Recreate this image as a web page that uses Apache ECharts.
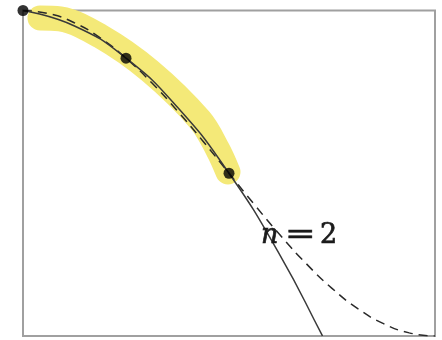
<!DOCTYPE html>
<html>
<head>
<meta charset="utf-8">
<script src="https://cdn.jsdelivr.net/npm/echarts@6/dist/echarts.min.js"></script>
<style>
  html, body { margin: 0; padding: 0; background: #fff; }
  #chart { width: 442px; height: 340px; }
</style>
</head>
<body>
<div id="chart"></div>
<script>
// x is measured in quarter-turns of pi/4, so the domain 0..4 covers 0..pi
const nodeX = [0, 1, 2];
const nodeY = [1, 0.7071, 0];

// target function, sampled along the full domain
const cosX = [0, 0.25, 0.5, 0.75, 1, 1.25, 1.5, 1.75, 2, 2.25, 2.5, 2.75, 3, 3.25, 3.5, 3.75, 4];
const cosY = [1, 0.9808, 0.9239, 0.8315, 0.7071, 0.5556, 0.3827, 0.1951, 0, -0.1951, -0.3827, -0.5556, -0.7071, -0.8315, -0.9239, -0.9808, -1];

// quadratic interpolant through the three nodes
const polyX = [0, 0.5, 1, 1.5, 2, 2.5, 2.9, 2.907];
const polyY = [1, 0.905, 0.707, 0.405, 0, -0.509, -0.990, -1.0];

// highlighter stroke over the interpolated interval
const markX = [0.165, 0.359, 0.748, 1.233, 1.718, 1.893, 1.99];
const markY = [0.954, 0.948, 0.843, 0.628, 0.327, 0.143, 0.008];

// annotation pieces: variable, relation, degree
const labelParts = ['n', '=', '2'];

const zip = (xs, ys) => xs.map((x, i) => [x, ys[i]]);

const chart = echarts.init(document.getElementById('chart'), null, { renderer: 'canvas' });

const textStyle = (text, italic) => ({
  text: text,
  fontFamily: 'DejaVu Serif',
  fontStyle: italic ? 'italic' : 'normal',
  fontSize: 27,
  fill: '#1a1a1a',
  stroke: '#1a1a1a',
  lineWidth: 0.7,
  verticalAlign: 'middle',
  align: 'left'
});

chart.setOption({
  animation: false,
  backgroundColor: '#fff',
  grid: {
    left: 23, top: 10.5, right: 7, bottom: 4,
    show: true, borderColor: '#a0a0a0', borderWidth: 2, backgroundColor: 'transparent'
  },
  xAxis: {
    type: 'value', min: 0, max: 4,
    axisLine: { show: false }, axisTick: { show: false },
    axisLabel: { show: false }, splitLine: { show: false }
  },
  yAxis: {
    type: 'value', min: -1, max: 1,
    axisLine: { show: false }, axisTick: { show: false },
    axisLabel: { show: false }, splitLine: { show: false }
  },
  series: [
    {
      type: 'line', data: zip(markX, markY), smooth: 0.35, symbol: 'none', z: 1,
      lineStyle: { color: '#f4e978', width: 25, cap: 'round', join: 'round' }
    },
    {
      type: 'line', data: zip(cosX, cosY), smooth: true, symbol: 'none', z: 2,
      lineStyle: { color: '#2a2a2a', width: 1.5, type: [9, 6] }
    },
    {
      type: 'line', data: zip(polyX, polyY), smooth: true, symbol: 'none', z: 3,
      lineStyle: { color: '#3a3a3a', width: 1.5 }
    },
    {
      type: 'scatter', data: zip(nodeX, nodeY), symbol: 'circle', symbolSize: 11, z: 4,
      itemStyle: { color: '#000' }
    }
  ],
  graphic: [
    { type: 'text', x: 261, y: 236, z: 10, style: textStyle(labelParts[0], true) },
    { type: 'text', x: 285, y: 236, z: 10, scaleX: 1.35, originX: 0, originY: 0, style: textStyle(labelParts[1], false) },
    { type: 'text', x: 320, y: 236, z: 10, style: textStyle(labelParts[2], false) }
  ]
});
</script>
</body>
</html>
